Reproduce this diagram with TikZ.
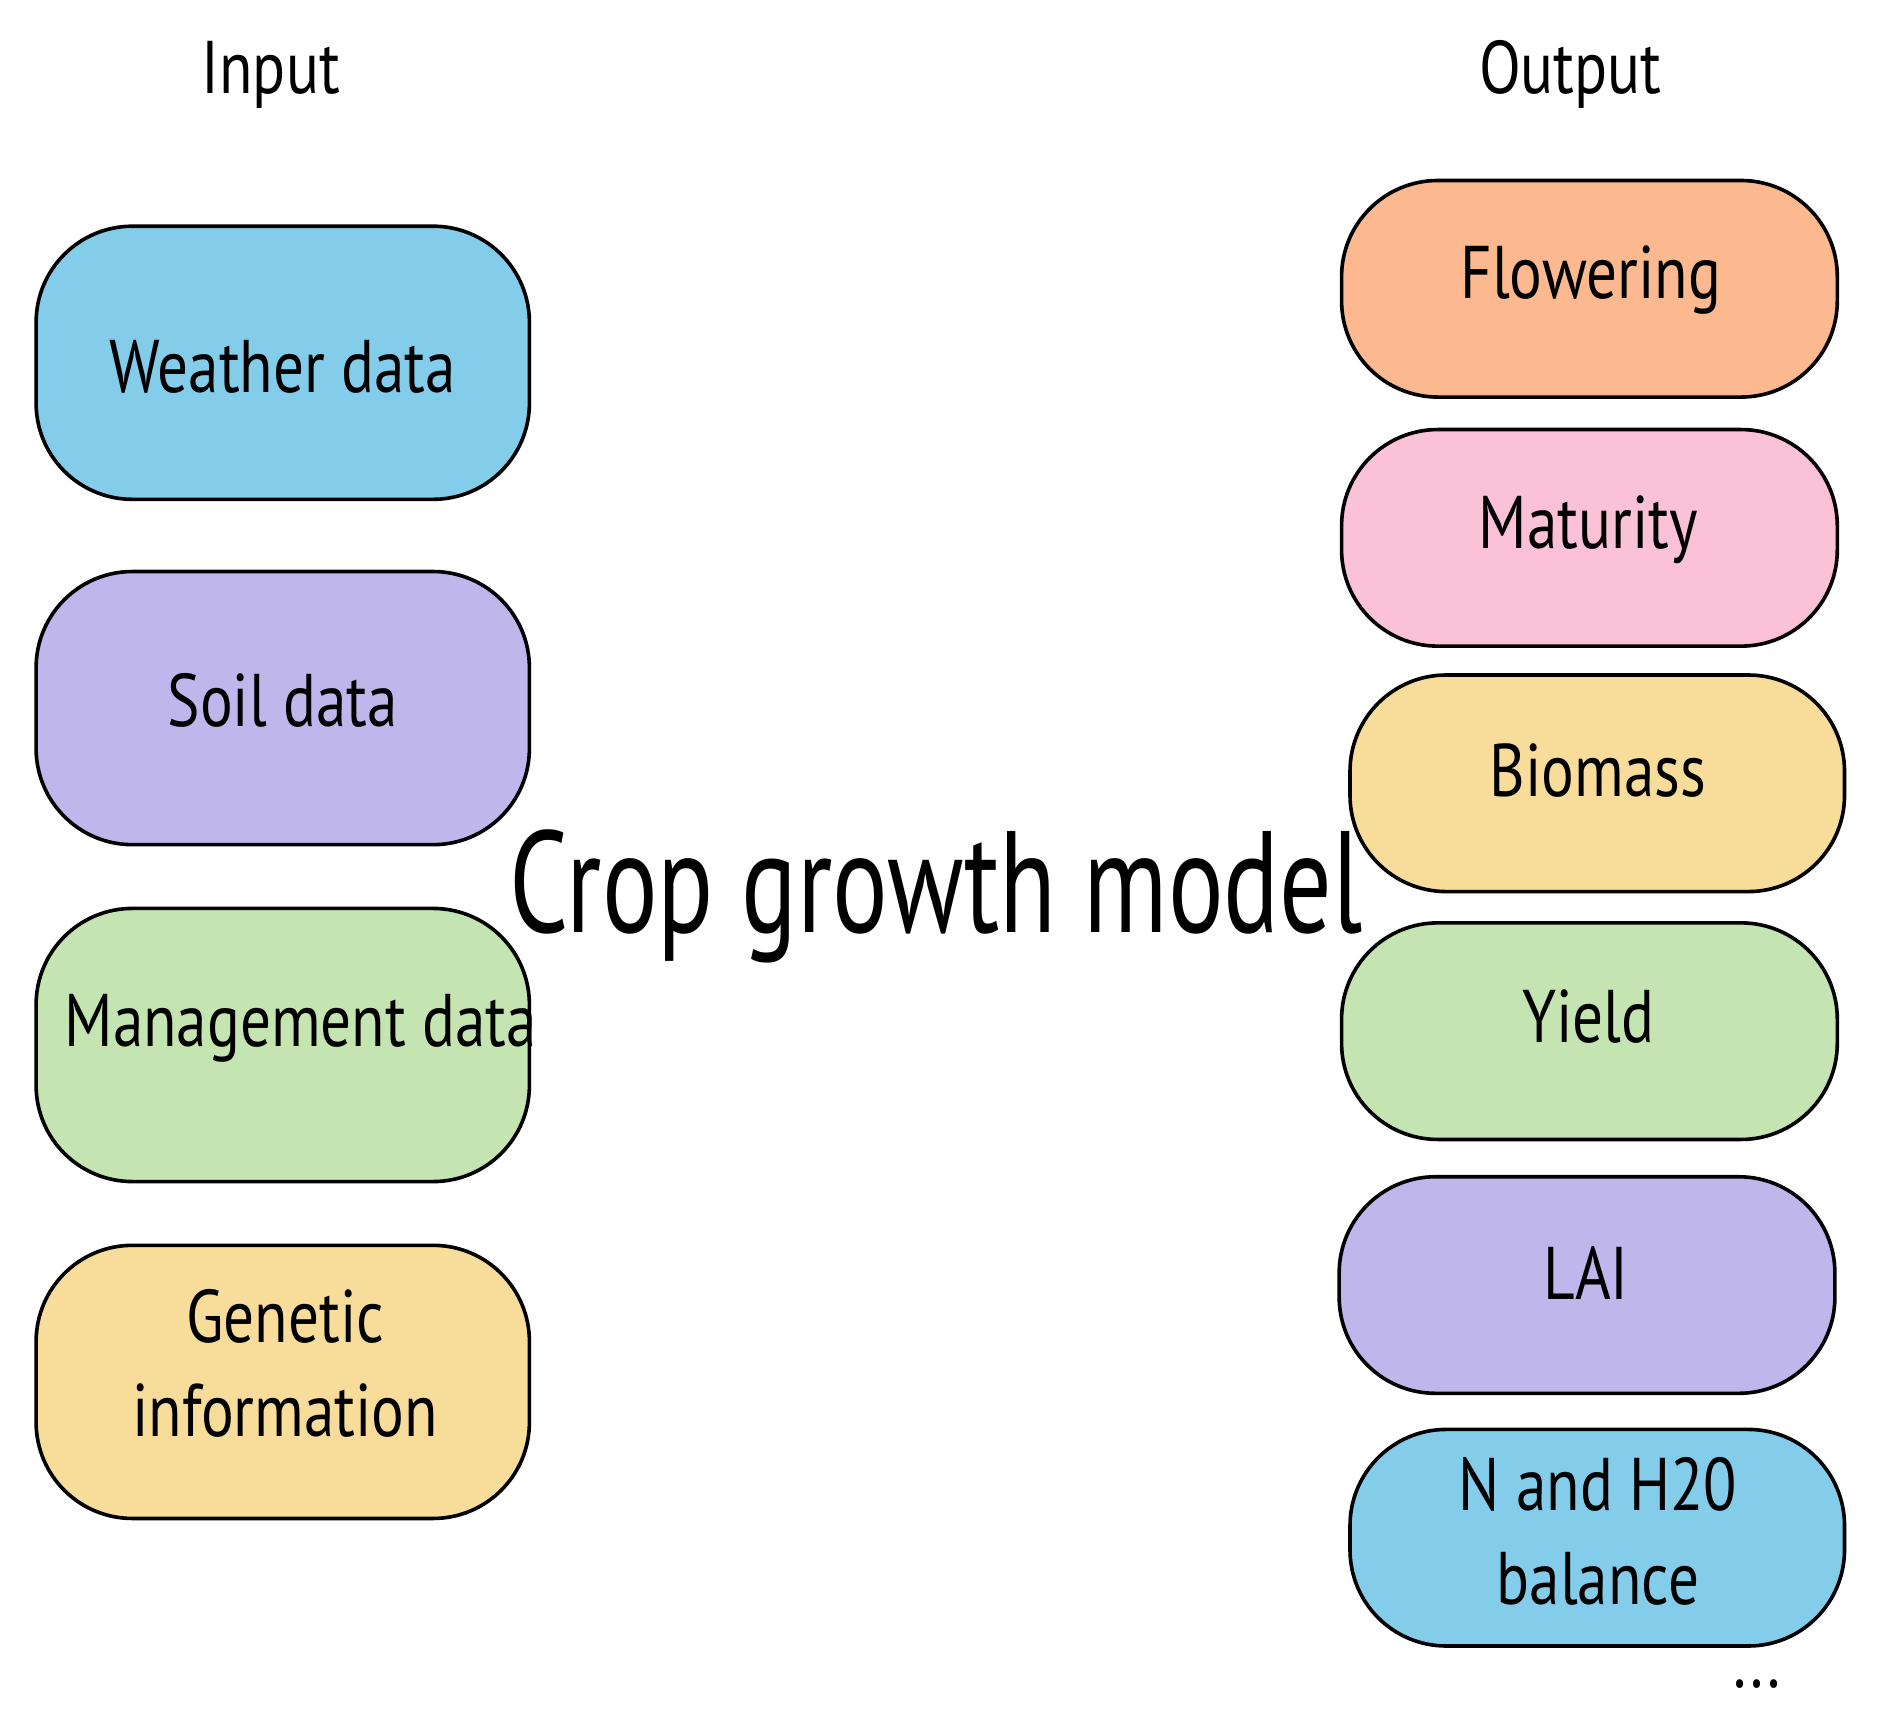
\documentclass[tikz,border=0pt]{standalone}
\usepackage{fontspec}
\setmainfont{PT Sans}
\definecolor{cblue}{HTML}{83CDEB}
\definecolor{cpurple}{HTML}{BFB7EC}
\definecolor{cgreen}{HTML}{C4E5B1}
\definecolor{cyellow}{HTML}{F8DC9A}
\definecolor{corange}{HTML}{FCB98F}
\definecolor{cpink}{HTML}{FBC1D6}
\begin{document}
\begin{tikzpicture}[x=1pt,y=-1pt,
  pill/.style={draw=black,line width=3pt,rounded corners=80pt},
  lbl/.style={font=\fontsize{62}{78}\selectfont,xscale=0.82,align=center}]
\useasboundingbox (0,0) rectangle (1560,1438);
\fill[white] (0,0) rectangle (1560,1438);
\node[lbl] (tin) at (225,62) {Input};
\node[lbl] (tout) at (1305,62) {Output};
\node[font=\fontsize{120}{130}\selectfont,xscale=0.72] (model) at (778,745) {Crop growth model};
% inputs
\draw[pill,fill=cblue] (30,188) rectangle (440,415);
\node[lbl] (w) at (235,305) {Weather data};
\draw[pill,fill=cpurple] (30,475) rectangle (440,702);
\node[lbl] (s) at (235,582) {Soil data};
\draw[pill,fill=cgreen] (30,755) rectangle (440,982);
\node[lbl] (m) at (250,855) {Management data};
\draw[pill,fill=cyellow] (30,1035) rectangle (440,1262);
\node[lbl] (g) at (237,1133) {Genetic\\information};
% outputs
\draw[pill,fill=corange] (1115,150) rectangle (1527,330);
\node[lbl] (f) at (1322,233) {Flowering};
\draw[pill,fill=cpink] (1115,357) rectangle (1527,537);
\node[lbl] (ma) at (1320,440) {Maturity};
\draw[pill,fill=cyellow] (1122,561) rectangle (1533,741);
\node[lbl] (b) at (1328,640) {Biomass};
\draw[pill,fill=cgreen] (1115,767) rectangle (1527,947);
\node[lbl] (y) at (1320,845) {Yield};
\draw[pill,fill=cpurple] (1113,978) rectangle (1525,1158);
\node[lbl] (l) at (1318,1058) {LAI};
\draw[pill,fill=cblue] (1122,1188) rectangle (1533,1368);
\node[lbl] (n) at (1328,1273) {N and H20\\balance};
\node[lbl] (dots) at (1460,1400) {...};
\end{tikzpicture}
\end{document}
